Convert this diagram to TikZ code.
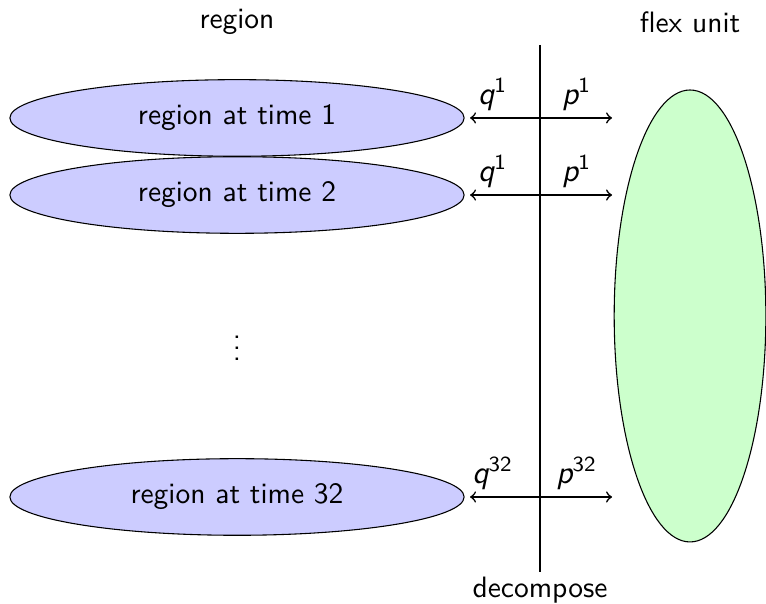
\documentclass[11pt,tikz,border=0pt]{standalone}
\usepackage{amsmath}
\usetikzlibrary{shapes.geometric}

% sans italic letter with a sans superscript
\newcommand{\flowlab}[2]{$\textit{#1}^{\textsf{#2}}$}

\begin{document}
\begin{tikzpicture}[font=\sffamily, semithick]
			
			% Parameters
			\def\xr{3.094}      % centre of the region ellipses
			\def\xd{7.05}       % the decompose line
			\def\xe{7.99}       % right end of the arrows
			
			% Styles
			\tikzset{
				regionbox/.style={ellipse, draw, thin, fill=blue!20, minimum width=5.93cm, minimum height=1.0cm},
				flexbox/.style={ellipse, draw, thin, fill=green!20, minimum width=1.98cm, minimum height=5.9cm},
				flow/.style={<->, shorten <=2pt},
				flowlabel/.style={above, font=\sffamily\large, inner sep=2.5pt}
			}
			
			\useasboundingbox (0,0) rectangle (10,7.885);
			
			% Headings
			\node (hregion) at (\xr,7.598) {region};
			\node (hflex) at (9.008,7.598) {flex unit};
			
			% Regions
			\node[regionbox] (r1) at (\xr,6.345) {region at time 1};
			\node[regionbox] (r2) at (\xr,5.339) {region at time 2};
			\node (dots) at (\xr,3.447) {$\vdots$};
			\node[regionbox] (r32) at (\xr,1.397) {region at time 32};
			
			% Flex unit
			\node[flexbox] (flex) at (9.008,3.760) {};
			
			% Decompose line
			\coordinate (dtop) at (\xd,7.298);
			\coordinate (dbot) at (\xd,0.418);
			\draw (dtop) -- (dbot) node[below, inner sep=1.5pt] (dlabel) {decompose};
			
			% Arrow ends
			\coordinate (e1) at (\xe,6.345);
			\coordinate (e2) at (\xe,5.339);
			\coordinate (e32) at (\xe,1.397);
			
			% Arrows
			\draw[flow] (r1.east) -- (e1)
				node[flowlabel, pos=0.19] (q1) {\flowlab{q}{1}}
				node[flowlabel, pos=0.76] (p1) {\flowlab{p}{1}};
			\draw[flow] (r2.east) -- (e2)
				node[flowlabel, pos=0.19] (q2) {\flowlab{q}{1}}
				node[flowlabel, pos=0.76] (p2) {\flowlab{p}{1}};
			\draw[flow] (r32.east) -- (e32)
				node[flowlabel, pos=0.19] (q32) {\flowlab{q}{32}}
				node[flowlabel, pos=0.76] (p32) {\flowlab{p}{32}};
			
		\end{tikzpicture}
\end{document}
